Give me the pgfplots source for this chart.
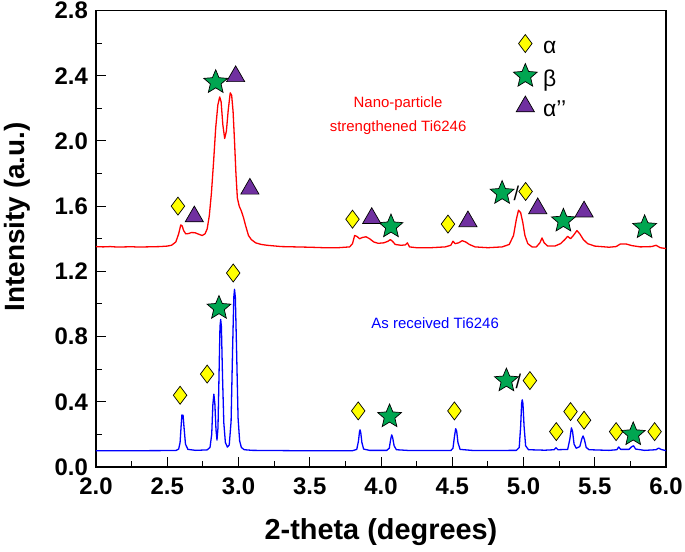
\documentclass[border=0pt]{standalone}
\usepackage{fontspec}
\setmainfont{Liberation Sans}
\usepackage{pgfplots}
\pgfplotsset{compat=1.18}
\definecolor{dyel}{RGB}{255,255,0}
\definecolor{dgreen}{RGB}{0,166,81}
\definecolor{dpurple}{RGB}{112,48,160}
\pgfdeclareplotmark{fstar}{%
 \pgfpathmoveto{\pgfpointpolar{90}{\pgfplotmarksize}}%
 \pgfpathlineto{\pgfpointpolar{126}{0.45\pgfplotmarksize}}%
 \pgfpathlineto{\pgfpointpolar{162}{\pgfplotmarksize}}%
 \pgfpathlineto{\pgfpointpolar{198}{0.45\pgfplotmarksize}}%
 \pgfpathlineto{\pgfpointpolar{234}{\pgfplotmarksize}}%
 \pgfpathlineto{\pgfpointpolar{270}{0.45\pgfplotmarksize}}%
 \pgfpathlineto{\pgfpointpolar{306}{\pgfplotmarksize}}%
 \pgfpathlineto{\pgfpointpolar{342}{0.45\pgfplotmarksize}}%
 \pgfpathlineto{\pgfpointpolar{18}{\pgfplotmarksize}}%
 \pgfpathlineto{\pgfpointpolar{54}{0.45\pgfplotmarksize}}%
 \pgfpathclose
 \pgfusepathqfillstroke}
\pgfplotsset{
 diam/.style={only marks, mark=diamond*, mark size=9bp, mark options={fill=dyel, draw=black, line width=0.7bp}},
 strm/.style={only marks, mark=fstar, mark size=12.5bp, mark options={fill=dgreen, draw=black, line width=0.7bp}},
 tri/.style={only marks, mark=triangle*, mark size=10.5bp, mark options={fill=dpurple, draw=black, line width=0.7bp}},
}
\begin{document}
\begin{tikzpicture}
\begin{axis}[
 scale only axis, width=570bp, height=456.5bp,
 xmin=2, xmax=6, ymin=0, ymax=2.8,
 xtick={2,2.5,3,3.5,4,4.5,5,5.5,6},
 ytick={0,0.4,0.8,1.2,1.6,2.0,2.4,2.8},
 minor x tick num=1, minor y tick num=1,
 tick align=inside, xtick pos=lower, ytick pos=left,
 major tick length=10bp, minor tick length=6bp,
 every tick/.style={black, line width=1bp},
 axis line style={line width=1.3bp},
 /pgf/number format/assume math mode=true,
 tick label style={font=\bfseries\fontsize{24}{24}\selectfont, inner sep=0pt},
 xticklabel style={/pgf/number format/fixed, /pgf/number format/fixed zerofill, /pgf/number format/precision=1},
 yticklabel style={/pgf/number format/fixed, /pgf/number format/fixed zerofill, /pgf/number format/precision=1},
 xticklabel shift=11bp, yticklabel shift=8bp,
 xlabel={2-theta (degrees)}, ylabel={Intensity (a.u.)},
 xlabel style={font=\bfseries\fontsize{29}{29}\selectfont, at={([yshift=-65bp]rel axis cs:0.5,0)}, anchor=center},
 ylabel style={font=\bfseries\fontsize{28}{28}\selectfont, at={([xshift=-79bp]rel axis cs:0,0.548)}, anchor=center},
 legend style={at={(rel axis cs:0.732,0.95)}, anchor=north west, draw=none, fill=none, inner sep=0pt,
   font=\fontsize{23}{23}\selectfont, nodes={inner sep=6bp, text height=14bp, text depth=4bp},
   legend image post style={yshift=5bp}, /tikz/every even column/.append style={column sep=4bp}},
 legend cell align=left,
]
\addlegendimage{diam}
\addlegendentry{α}
\addlegendimage{strm}
\addlegendentry{β}
\addlegendimage{tri}
\addlegendentry{α’’}

% Nano-particle strengthened Ti6246 (red)
\addplot[red, line width=1.3bp, line join=round, forget plot] coordinates {
(2.00,1.352)(2.05,1.350)(2.10,1.352)(2.15,1.349)(2.20,1.350)(2.25,1.351)(2.30,1.349)(2.35,1.350)
(2.40,1.351)(2.45,1.352)(2.50,1.355)(2.53,1.360)(2.56,1.380)(2.58,1.430)(2.595,1.485)(2.605,1.478)
(2.615,1.450)(2.630,1.430)(2.650,1.432)(2.670,1.438)(2.695,1.437)(2.720,1.428)(2.745,1.420)(2.765,1.430)
(2.780,1.460)(2.795,1.540)(2.810,1.680)(2.825,1.870)(2.840,2.080)(2.855,2.220)(2.868,2.270)(2.878,2.240)
(2.890,2.100)(2.903,2.015)(2.915,2.060)(2.928,2.190)(2.942,2.295)(2.952,2.280)(2.962,2.180)(2.972,2.000)
(2.982,1.800)(2.992,1.650)(3.005,1.600)(3.020,1.570)(3.035,1.530)(3.050,1.480)(3.070,1.420)(3.090,1.395)
(3.120,1.375)(3.160,1.365)(3.200,1.360)(3.300,1.352)(3.400,1.350)(3.500,1.348)(3.600,1.345)(3.700,1.345)
(3.780,1.350)(3.800,1.370)(3.815,1.420)(3.830,1.415)(3.850,1.400)(3.870,1.408)(3.895,1.412)(3.920,1.400)
(3.950,1.380)(3.980,1.372)(4.020,1.375)(4.050,1.385)(4.065,1.395)(4.080,1.385)(4.100,1.365)(4.140,1.360)
(4.170,1.362)(4.185,1.375)(4.200,1.350)(4.250,1.345)(4.350,1.345)(4.450,1.350)(4.490,1.360)(4.505,1.385)
(4.520,1.370)(4.545,1.375)(4.570,1.388)(4.595,1.380)(4.620,1.365)(4.660,1.350)(4.750,1.345)(4.850,1.350)
(4.900,1.365)(4.930,1.420)(4.950,1.520)(4.965,1.575)(4.980,1.560)(4.995,1.500)(5.010,1.420)(5.030,1.370)
(5.060,1.350)(5.090,1.350)(5.115,1.375)(5.130,1.405)(5.145,1.375)(5.170,1.355)(5.220,1.355)(5.260,1.370)
(5.290,1.395)(5.310,1.415)(5.330,1.400)(5.350,1.420)(5.375,1.450)(5.395,1.430)(5.420,1.395)(5.450,1.370)
(5.500,1.355)(5.600,1.348)(5.650,1.352)(5.680,1.368)(5.720,1.368)(5.760,1.358)(5.820,1.350)(5.900,1.352)
(5.930,1.360)(5.960,1.345)(6.000,1.340)
};
% As received Ti6246 (blue)
\addplot[blue, line width=1.3bp, line join=round, forget plot] coordinates {
(2.00,0.100)(2.30,0.100)(2.56,0.101)(2.580,0.110)(2.590,0.150)(2.598,0.260)(2.603,0.320)(2.607,0.300)
(2.611,0.318)(2.618,0.240)(2.628,0.140)(2.645,0.108)(2.70,0.102)(2.780,0.105)(2.800,0.120)(2.812,0.200)
(2.820,0.380)(2.827,0.447)(2.834,0.390)(2.842,0.230)(2.849,0.165)(2.856,0.240)(2.863,0.550)(2.870,0.860)
(2.875,0.905)(2.880,0.860)(2.888,0.550)(2.897,0.270)(2.908,0.150)(2.922,0.122)(2.935,0.135)(2.948,0.280)
(2.958,0.700)(2.967,1.040)(2.972,1.090)(2.978,1.040)(2.987,0.700)(2.997,0.300)(3.008,0.160)(3.020,0.120)
(3.040,0.106)(3.10,0.102)(3.40,0.100)(3.80,0.100)(3.830,0.108)(3.842,0.160)(3.849,0.215)(3.853,0.228)
(3.858,0.210)(3.866,0.150)(3.878,0.110)(3.92,0.102)(4.04,0.102)(4.058,0.115)(4.068,0.170)(4.075,0.197)
(4.082,0.180)(4.092,0.130)(4.108,0.106)(4.20,0.101)(4.49,0.101)(4.505,0.115)(4.516,0.190)(4.524,0.235)
(4.531,0.220)(4.540,0.150)(4.555,0.108)(4.65,0.101)(4.95,0.102)(4.970,0.120)(4.980,0.250)(4.987,0.390)
(4.991,0.412)(4.996,0.390)(5.004,0.250)(5.015,0.130)(5.035,0.106)(5.15,0.103)(5.215,0.106)(5.228,0.118)
(5.242,0.106)(5.310,0.108)(5.325,0.170)(5.336,0.240)(5.344,0.220)(5.355,0.140)(5.370,0.115)(5.395,0.125)
(5.410,0.175)(5.418,0.190)(5.427,0.170)(5.440,0.120)(5.460,0.106)(5.60,0.102)(5.655,0.106)(5.668,0.123)
(5.682,0.108)(5.740,0.108)(5.760,0.125)(5.772,0.130)(5.787,0.110)(5.85,0.102)(5.930,0.106)(5.948,0.116)
(5.965,0.108)(6.00,0.100)
};
% markers, red curve
\addplot[diam, forget plot] coordinates {(2.575,1.60)(3.80,1.52)(4.47,1.49)(5.015,1.69)};
\addplot[strm, forget plot] coordinates {(2.84,2.36)(4.07,1.475)(4.85,1.68)(5.28,1.51)(5.85,1.47)};
\addplot[tri, forget plot] coordinates {(2.69,1.536)(2.98,2.396)(3.08,1.706)(3.935,1.526)(4.61,1.506)(5.10,1.586)(5.425,1.566)};
% markers, blue curve
\addplot[diam, forget plot] coordinates {(2.59,0.44)(2.78,0.57)(2.963,1.19)(3.84,0.344)(4.515,0.344)(5.045,0.53)(5.23,0.217)(5.33,0.34)(5.425,0.287)(5.65,0.217)(5.92,0.217)};
\addplot[strm, forget plot] coordinates {(2.863,0.975)(4.06,0.31)(4.88,0.53)(5.77,0.20)};

\node[text=red, font=\fontsize{15}{24}\selectfont, align=center] at (axis cs:4.12,2.157) {Nano-particle\\strengthened Ti6246};
\node[text=blue, font=\fontsize{15}{15}\selectfont] at (axis cs:4.38,0.885) {As received Ti6246};
\node[font=\fontsize{20}{20}\selectfont] at (axis cs:4.95,1.68) {/};
\node[font=\fontsize{20}{20}\selectfont] at (axis cs:4.965,0.525) {/};

\coordinate (BL) at (rel axis cs:0,0);
\coordinate (TR) at (rel axis cs:1,1);
\end{axis}
\pgfresetboundingbox
\path ([shift={(-96bp,-85bp)}]BL) rectangle ([shift={(19bp,10.5bp)}]TR);
\end{tikzpicture}
\end{document}
